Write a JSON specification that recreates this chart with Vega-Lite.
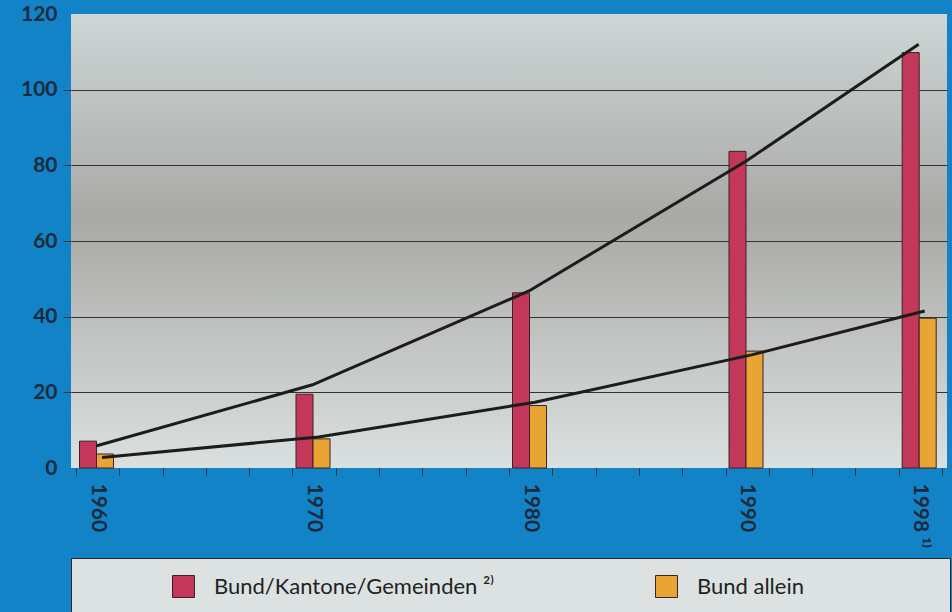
{
  "$schema": "https://vega.github.io/schema/vega-lite/v6.json",
  "width": 876,
  "height": 454,
  "autosize": {"type": "none"},
  "padding": {"left": 71, "top": 14, "right": 5, "bottom": 144},
  "background": "#1383c7",
  "config": {
    "view": {
      "stroke": null,
      "fill": {
        "gradient": "linear", "x1": 0, "y1": 0, "x2": 0, "y2": 1,
        "stops": [
          {"offset": 0, "color": "#cdd6d6"},
          {"offset": 0.45, "color": "#a9a9a5"},
          {"offset": 1, "color": "#dae0e0"}
        ]
      }
    },
    "font": "Lato"
  },
  "datasets": {
    "bars": [
      {"year": 1960, "series": "Bund/Kantone/Gemeinden", "value": 7.1},
      {"year": 1970, "series": "Bund/Kantone/Gemeinden", "value": 19.5},
      {"year": 1980, "series": "Bund/Kantone/Gemeinden", "value": 46.3},
      {"year": 1990, "series": "Bund/Kantone/Gemeinden", "value": 83.7},
      {"year": 1998, "series": "Bund/Kantone/Gemeinden", "value": 109.8},
      {"year": 1960, "series": "Bund allein", "value": 3.7},
      {"year": 1970, "series": "Bund allein", "value": 7.7},
      {"year": 1980, "series": "Bund allein", "value": 16.5},
      {"year": 1990, "series": "Bund allein", "value": 30.9},
      {"year": 1998, "series": "Bund allein", "value": 39.6}
    ],
    "trend": [
      {"year": 1960, "line": "Bund/Kantone/Gemeinden", "value": 5.8},
      {"year": 1970, "line": "Bund/Kantone/Gemeinden", "value": 22},
      {"year": 1980, "line": "Bund/Kantone/Gemeinden", "value": 46.8},
      {"year": 1990, "line": "Bund/Kantone/Gemeinden", "value": 81},
      {"year": 1998, "line": "Bund/Kantone/Gemeinden", "value": 112},
      {"year": 1960, "line": "Bund allein", "value": 2.8},
      {"year": 1970, "line": "Bund allein", "value": 8.2},
      {"year": 1980, "line": "Bund allein", "value": 17.4},
      {"year": 1990, "line": "Bund allein", "value": 29.9},
      {"year": 1998, "line": "Bund allein", "value": 41.5}
    ]
  },
  "layer": [
    {
      "data": {"name": "bars"},
      "transform": [{"filter": "datum.series == 'Bund/Kantone/Gemeinden'"}],
      "mark": {"type": "bar", "orient": "vertical", "width": 17, "xOffset": 12, "stroke": "#3b2323", "strokeWidth": 1},
      "encoding": {
        "x": {
          "field": "year", "type": "quantitative",
          "scale": {"domain": [1960, 2000], "nice": false, "zero": false},
          "axis": {
            "title": null,
            "values": [1960, 1962, 1964, 1966, 1968, 1970, 1972, 1974, 1976, 1978, 1980, 1982, 1984, 1986, 1988, 1990, 1992, 1994, 1996, 1998, 2000],
            "domain": false, "grid": false,
            "ticks": true, "tickSize": 7, "tickColor": "#243447", "tickWidth": 1,
            "labelAngle": 90, "labelAlign": "left", "labelBaseline": "middle",
            "labelPadding": 8, "labelOffset": 21,
            "labelFont": "Lato", "labelFontWeight": "bold", "labelFontSize": 21, "labelColor": "#1b2a3c",
            "labelOverlap": false, "labelFlush": false, "labelBound": false,
            "labelExpr": "datum.value == 1998 ? '1998 ¹⁾' : (datum.value == 1960 || datum.value == 1970 || datum.value == 1980 || datum.value == 1990) ? '' + datum.value : ''"
          }
        },
        "y": {
          "field": "value", "type": "quantitative",
          "scale": {"domain": [0, 120], "nice": false},
          "axis": {
            "title": null,
            "values": [0, 20, 40, 60, 80, 100, 120],
            "domain": false, "grid": true,
            "gridColor": {"condition": {"test": "datum.value == 0 || datum.value == 120", "value": "transparent"}, "value": "#333333"},
            "gridWidth": 1,
            "tickColor": {"condition": {"test": "datum.value == 0 || datum.value == 120", "value": "transparent"}, "value": "#333333"},
            "tickSize": 8, "labelPadding": 6,
            "labelFont": "Lato", "labelFontWeight": "bold", "labelFontSize": 21, "labelColor": "#1b2a3c"
          }
        },
        "color": {
          "field": "series", "type": "nominal",
          "scale": {"domain": ["Bund/Kantone/Gemeinden", "Bund allein"], "range": ["#c3385a", "#e8a534"]},
          "legend": {
            "orient": "none", "legendX": 0, "legendY": 544,
            "direction": "horizontal", "columns": 2, "gridAlign": "none", "columnPadding": 77,
            "title": null,
            "padding": 17, "fillColor": "#dce2e2", "strokeColor": "#2a2a2a",
            "symbolType": "square", "symbolSize": 484, "symbolStrokeColor": "#3b2323", "symbolStrokeWidth": 1, "symbolOpacity": 1,
            "symbolOffset": 84,
            "labelFont": "Lato", "labelFontSize": 22, "labelColor": "#222222", "labelOffset": 19, "labelLimit": 0,
            "labelExpr": "datum.label == 'Bund/Kantone/Gemeinden' ? datum.label + ' ²⁾' : datum.label + '\u00a0\u00a0\u00a0\u2800\u2800\u2800\u2800\u2800\u2800\u2800'"
          }
        }
      }
    },
    {
      "data": {"name": "bars"},
      "transform": [{"filter": "datum.series == 'Bund allein'"}],
      "mark": {"type": "bar", "orient": "vertical", "width": 17, "xOffset": 29, "stroke": "#3b2323", "strokeWidth": 1},
      "encoding": {
        "x": {"field": "year", "type": "quantitative", "title": null},
        "y": {"field": "value", "type": "quantitative", "title": null},
        "color": {"field": "series", "type": "nominal"}
      }
    },
    {
      "data": {"name": "trend"},
      "transform": [{"filter": "datum.line == 'Bund/Kantone/Gemeinden'"}],
      "mark": {"type": "line", "xOffset": 20, "color": "#1c1c1c", "strokeWidth": 3},
      "encoding": {
        "x": {"field": "year", "type": "quantitative", "title": null},
        "y": {"field": "value", "type": "quantitative", "title": null}
      }
    },
    {
      "data": {"name": "trend"},
      "transform": [{"filter": "datum.line == 'Bund allein'"}],
      "mark": {"type": "line", "xOffset": 26, "color": "#1c1c1c", "strokeWidth": 3},
      "encoding": {
        "x": {"field": "year", "type": "quantitative", "title": null},
        "y": {"field": "value", "type": "quantitative", "title": null}
      }
    }
  ]
}
